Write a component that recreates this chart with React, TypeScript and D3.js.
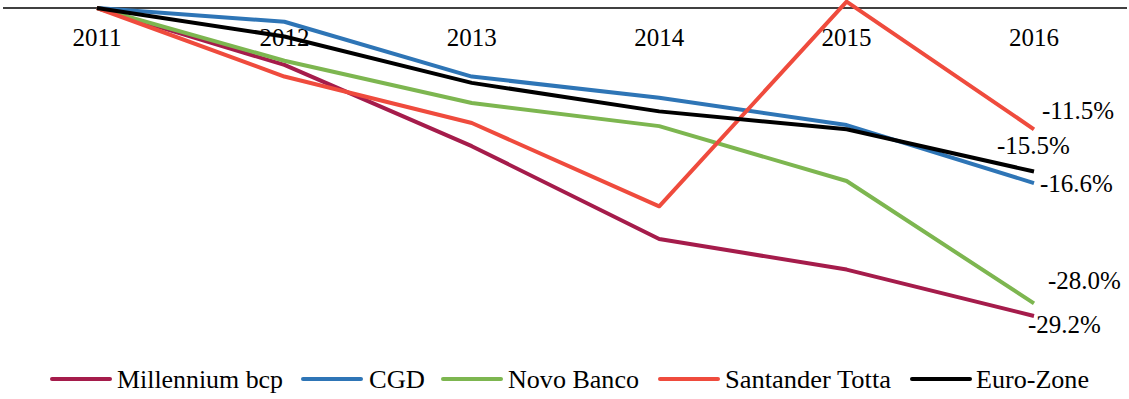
import React from "react";
import * as d3 from "d3";

const years = ["2011", "2012", "2013", "2014", "2015", "2016"];
const millennium = [0, -5.4, -13.1, -21.9, -24.8, -29.2];
const cgd = [0, -1.3, -6.5, -8.5, -11.1, -16.6];
const novoBanco = [0, -5.0, -9.0, -11.2, -16.4, -28.0];
const santander = [0, -6.5, -10.9, -18.8, 0.6, -11.5];
const euroZone = [0, -2.7, -7.1, -9.8, -11.5, -15.5];
const endLabels = ["-29.2%", "-16.6%", "-28.0%", "-11.5%", "-15.5%"];

const seriesNames = ["Millennium bcp", "CGD", "Novo Banco", "Santander Totta", "Euro-Zone"];
const seriesValues = [millennium, cgd, novoBanco, santander, euroZone];
const colors = ["#A51C4B", "#2E75B6", "#7DB650", "#EF4B3D", "#000000"];
const labelPos = [
  { dx: -6, dy: 17 },
  { dx: 6, dy: 9 },
  { dx: 14, dy: -14 },
  { dx: 8, dy: -10 },
  { dx: -37, dy: -17 },
];

const W = 1129;
const H = 399;

export default function App() {
  const x = d3.scalePoint<string>().domain(years).range([97, 1034]);
  const y = d3.scaleLinear().domain([0, -29.2]).range([8, 316]);
  const line = d3
    .line<number>()
    .x((_, i) => x(years[i]) as number)
    .y((d) => y(d));

  const legendItems = [
    { lx: 52, tx: 117, tw: 166 },
    { lx: 303, tx: 369, tw: 56 },
    { lx: 443, tx: 508, tw: 131 },
    { lx: 660, tx: 725, tw: 166 },
    { lx: 912, tx: 976, tw: 113 },
  ];

  return (
    <svg width={W} height={H} style={{ display: "block", position: "absolute", left: 0, top: 0, background: "#fff" }}>
      <line x1={3} x2={1127} y1={y(0)} y2={y(0)} stroke="#000" strokeWidth={1.5} />
      {years.map((yr) => (
        <text
          key={yr}
          x={x(yr)}
          y={46}
          textAnchor="middle"
          fontSize={25}
          fill="#000"
          fontFamily="Liberation Serif"
          style={{ fontFamily: "'Liberation Serif'" }}
        >
          {yr}
        </text>
      ))}
      {seriesValues.map((vals, i) => (
        <path
          key={seriesNames[i]}
          d={line(vals) || ""}
          fill="none"
          stroke={colors[i]}
          strokeWidth={4}
          strokeLinejoin="round"
        />
      ))}
      {seriesValues.map((vals, i) => {
        const ex = x(years[years.length - 1]) as number;
        const ey = y(vals[vals.length - 1]);
        return (
          <text
            key={"l" + i}
            x={ex + labelPos[i].dx}
            y={ey + labelPos[i].dy}
            fontSize={25}
            fill="#000"
            fontFamily="Liberation Serif"
            style={{ fontFamily: "'Liberation Serif'" }}
          >
            {endLabels[i]}
          </text>
        );
      })}
      {seriesNames.map((name, i) => (
        <g key={"lg" + i}>
          <line
            x1={legendItems[i].lx}
            x2={legendItems[i].lx + 58}
            y1={379}
            y2={379}
            stroke={colors[i]}
            strokeWidth={4}
            strokeLinecap="round"
          />
          <text
            x={legendItems[i].tx}
            y={388}
            fontSize={25}
            fill="#000"
            textLength={legendItems[i].tw}
            lengthAdjust="spacingAndGlyphs"
            fontFamily="Liberation Serif"
            style={{ fontFamily: "'Liberation Serif'" }}
          >
            {name}
          </text>
        </g>
      ))}
    </svg>
  );
}
